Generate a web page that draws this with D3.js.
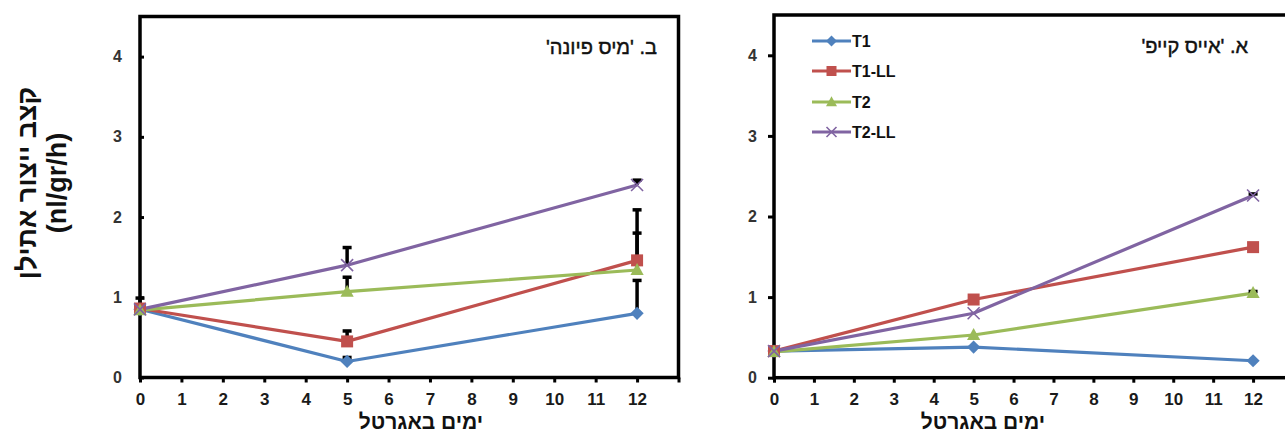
<!DOCTYPE html>
<html>
<head>
<meta charset="utf-8">
<script src="https://cdn.jsdelivr.net/npm/d3@7"></script>
<style>
  body { margin: 0; background: #fff; }
  svg { display: block; }
  text { font-family: "Liberation Sans", Arial, sans-serif; }
</style>
</head>
<body>
<svg id="chart" width="1285" height="434"></svg>
<script>
// Sampling days (days in vase)
const days = [0, 5, 12];

// Series shared by both cultivars
const seriesNames = ["T1", "T1-LL", "T2", "T2-LL"];
const seriesColors = ["#4F81BD", "#C0504D", "#9BBB59", "#8064A2"];
const seriesSymbols = ["diamond", "square", "triangle", "cross"];

// Cultivar "Miss Fiona" — ethylene production rate (nl/gr/h)
const fionaT1 = [0.85, 0.20, 0.80];
const fionaT1LL = [0.86, 0.45, 1.46];
const fionaT2 = [0.84, 1.07, 1.34];
const fionaT2LL = [0.85, 1.40, 2.40];
// upper error bars
const fionaT1Err = [0.14, 0.05, 0.41];
const fionaT1LLErr = [0, 0.13, 0.63];
const fionaT2Err = [0, 0.18, 0.46];
const fionaT2LLErr = [0, 0.22, 0.06];

// Cultivar "Ice Cape" — ethylene production rate (nl/gr/h)
const capeT1 = [0.33, 0.38, 0.21];
const capeT1LL = [0.33, 0.97, 1.62];
const capeT2 = [0.32, 0.53, 1.05];
const capeT2LL = [0.33, 0.80, 2.26];
const capeT1Err = [0, 0, 0];
const capeT1LLErr = [0, 0, 0];
const capeT2Err = [0, 0, 0.02];
const capeT2LLErr = [0, 0, 0.02];

// Axis ticks
const xTickValues = [0, 1, 2, 3, 4, 5, 6, 7, 8, 9, 10, 11, 12, 13];
const xTickLabels = ["0", "1", "2", "3", "4", "5", "6", "7", "8", "9", "10", "11", "12", ""];
const yTickValues = [0, 1, 2, 3, 4];
const yTickLabels = ["0", "1", "2", "3", "4"];

// Texts
const yTitleLines = ["קצב ייצור אתילן", "(nl/gr/h)"];
const xTitle = "ימים באגרטל";
const panelTitles = ["ב. 'מיס פיונה'", "א. 'אייס קייפ'"];

const svg = d3.select("#chart");
svg.append("rect").attr("width", 1285).attr("height", 434).attr("fill", "#fff");

const panels = [
  {
    title: panelTitles[0],
    values: [fionaT1, fionaT1LL, fionaT2, fionaT2LL],
    errors: [fionaT1Err, fionaT1LLErr, fionaT2Err, fionaT2LLErr],
    x: d3.scaleLinear().domain([0, 13]).range([140, 678.5]),
    y: d3.scaleLinear().domain([0, 4.5]).range([377.5, 16.5]),
    yTickInward: true,
    yLabelEnd: 122,
    titleRight: 657, titleY: 54,
    xTitleX: 421,
    legend: false
  },
  {
    title: panelTitles[1],
    values: [capeT1, capeT1LL, capeT2, capeT2LL],
    errors: [capeT1Err, capeT1LLErr, capeT2Err, capeT2LLErr],
    x: d3.scaleLinear().domain([0, 13]).range([774, 1293]),
    y: d3.scaleLinear().domain([0, 4.5]).range([377.7, 15]),
    yTickInward: false,
    yLabelEnd: 757,
    titleRight: 1248, titleY: 53,
    xTitleX: 983,
    legend: true
  }
];

function drawMarker(g, type, color, size) {
  const s = size;
  if (type === "diamond") {
    g.append("path")
      .attr("d", `M0,${-s * 0.55}L${s * 0.55},0L0,${s * 0.55}L${-s * 0.55},0Z`)
      .attr("fill", color);
  } else if (type === "square") {
    g.append("rect")
      .attr("x", -s / 2).attr("y", -s / 2)
      .attr("width", s).attr("height", s)
      .attr("fill", color);
  } else if (type === "triangle") {
    g.append("path")
      .attr("d", `M0,${-s * 0.58}L${s * 0.55},${s * 0.42}L${-s * 0.55},${s * 0.42}Z`)
      .attr("fill", color);
  } else {
    const h = s * 0.5;
    g.append("path")
      .attr("d", `M${-h},${-h}L${h},${h}M${-h},${h}L${h},${-h}`)
      .attr("stroke", color).attr("stroke-width", 1.6).attr("fill", "none");
  }
}

panels.forEach(p => {
  const g = svg.append("g");
  const [x0, x1] = p.x.range();
  const [yb, yt] = p.y.range();

  // x axis ticks and labels
  const xAxis = d3.axisBottom(p.x)
    .tickValues(xTickValues)
    .tickSize(5)
    .tickFormat((d, i) => xTickLabels[i]);
  const gx = g.append("g").attr("transform", `translate(0,${yb})`).call(xAxis);
  gx.select(".domain").remove();
  gx.selectAll(".tick line").attr("stroke", "#000").attr("stroke-width", 3);
  gx.selectAll(".tick text")
    .attr("y", 15)
    .attr("font-size", 17).attr("font-weight", "bold")
    .attr("fill", "#1a1a1a")
    .style("font-family", "'Liberation Sans', Arial, sans-serif");

  // y axis ticks and labels
  const yAxis = d3.axisLeft(p.y)
    .tickValues(yTickValues)
    .tickSize(p.yTickInward ? -4 : 6)
    .tickPadding(p.yTickInward ? (x0 - p.yLabelEnd) : (x0 - p.yLabelEnd - 6))
    .tickFormat((d, i) => yTickLabels[i]);
  const gy = g.append("g").attr("transform", `translate(${x0},0)`).call(yAxis);
  gy.select(".domain").remove();
  gy.selectAll(".tick line").attr("stroke", "#000").attr("stroke-width", 3);
  gy.selectAll(".tick text")
    .attr("font-size", 16).attr("font-weight", "bold")
    .attr("fill", "#333")
    .style("font-family", "'Liberation Sans', Arial, sans-serif");

  // plot frame
  g.append("rect")
    .attr("x", x0).attr("y", yt)
    .attr("width", x1 - x0).attr("height", yb - yt)
    .attr("fill", "none").attr("stroke", "#000").attr("stroke-width", 3.5);

  // series lines
  const line = d3.line().x((d, i) => p.x(days[i])).y(d => p.y(d));
  p.values.forEach((vals, s) => {
    g.append("path")
      .datum(vals)
      .attr("d", line)
      .attr("fill", "none")
      .attr("stroke", seriesColors[s])
      .attr("stroke-width", 3.2)
      .attr("stroke-linejoin", "round");
  });

  // upper error bars
  p.values.forEach((vals, s) => {
    vals.forEach((v, i) => {
      const e = p.errors[s][i];
      if (!e) return;
      const cx = p.x(days[i]);
      g.append("line")
        .attr("x1", cx).attr("x2", cx)
        .attr("y1", p.y(v)).attr("y2", p.y(v + e))
        .attr("stroke", "#000").attr("stroke-width", 3.5);
      g.append("line")
        .attr("x1", cx - 4.5).attr("x2", cx + 4.5)
        .attr("y1", p.y(v + e)).attr("y2", p.y(v + e))
        .attr("stroke", "#000").attr("stroke-width", 3.5);
    });
  });

  // markers
  p.values.forEach((vals, s) => {
    vals.forEach((v, i) => {
      const m = g.append("g").attr("transform", `translate(${p.x(days[i])},${p.y(v)})`);
      drawMarker(m, seriesSymbols[s], seriesColors[s], 12);
    });
  });

  // panel title
  g.append("text")
    .attr("x", p.titleRight).attr("y", p.titleY)
    .attr("direction", "rtl")
    .attr("text-anchor", "start")
    .attr("font-size", 20)
    .attr("fill", "#111")
    .attr("stroke", "#111").attr("stroke-width", 0.45)
    .text(p.title);

  // x title
  g.append("text")
    .attr("x", p.xTitleX).attr("y", 429)
    .attr("direction", "rtl")
    .attr("text-anchor", "middle")
    .attr("font-size", 21).attr("font-weight", "bold")
    .attr("fill", "#111")
    .text(xTitle);

  // legend
  if (p.legend) {
    const rows = [41, 71, 102, 132];
    seriesNames.forEach((name, s) => {
      const lg = g.append("g").attr("transform", `translate(812,${rows[s]})`);
      lg.append("line").attr("x1", 0).attr("x2", 39).attr("y1", 0).attr("y2", 0)
        .attr("stroke", seriesColors[s]).attr("stroke-width", 3.2);
      const m = lg.append("g").attr("transform", "translate(19.5,0)");
      drawMarker(m, seriesSymbols[s], seriesColors[s], 10);
      lg.append("text").attr("x", 40).attr("y", 6)
        .attr("font-size", 16).attr("font-weight", "bold")
        .attr("fill", "#111")
        .text(name);
    });
  }
});

// shared y title (rotated)
const yt = svg.append("g").attr("transform", "translate(0,183) rotate(-90)");
yt.append("text").attr("x", 0).attr("y", 36)
  .attr("text-anchor", "middle")
  .attr("direction", "rtl")
  .attr("font-size", 27).attr("font-weight", "bold")
  .attr("fill", "#111")
  .text(yTitleLines[0]);
yt.append("text").attr("x", 0).attr("y", 66)
  .attr("text-anchor", "middle")
  .attr("font-size", 27).attr("font-weight", "bold")
  .attr("fill", "#111")
  .text(yTitleLines[1]);
</script>
</body>
</html>
